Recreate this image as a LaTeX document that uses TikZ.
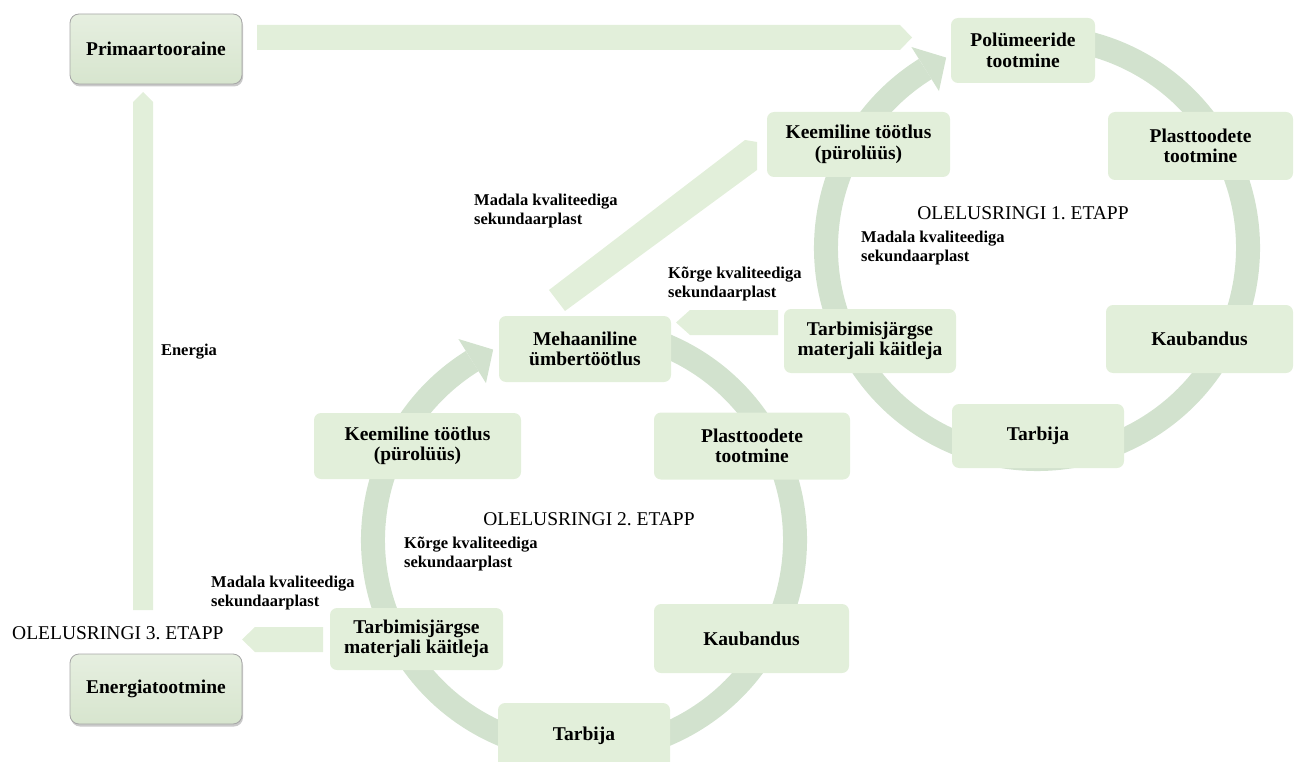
\documentclass[tikz,border=0pt]{standalone}
\usepackage{fontspec}
\setmainfont{Liberation Serif}
\usetikzlibrary{shadows,calc}
\definecolor{boxg}{HTML}{E2EFDA}
\definecolor{ringg}{HTML}{D2E2CE}
\definecolor{arrg}{HTML}{E2EFDA}
\definecolor{primtop}{HTML}{E6EFE0}
\definecolor{primbot}{HTML}{D7E5CE}
\frenchspacing
\begin{document}
\begin{tikzpicture}[x=1pt,y=-1pt,
  box/.style={fill=boxg, rounded corners=7pt, align=center, inner sep=0pt,
    font=\bfseries\fontsize{19.5}{20.5}\selectfont},
  pbox/.style={draw=black!35, line width=0.8pt, top color=primtop, bottom color=primbot,
    rounded corners=9pt, align=center, inner sep=0pt,
    font=\bfseries\fontsize{19.5}{20.5}\selectfont,
    drop shadow={shadow xshift=1pt, shadow yshift=-2.5pt, opacity=.35, fill=black!60}},
  lbl/.style={font=\bfseries\fontsize{16.5}{19}\selectfont, align=left, anchor=west, inner sep=0pt},
  etapp/.style={font=\fontsize{19.5}{22}\selectfont, inner sep=0pt},
  arr/.style={fill=arrg},
  ring/.style={draw=ringg, line width=24pt},
  head/.style={fill=ringg}]
\useasboundingbox (0,0) rectangle (1295,762);
\clip (0,0) rectangle (1295,762);

% ring centres
\coordinate (c1) at (1037,248);
\coordinate (c2) at (584,540);

% rings with arrow heads
\foreach \C in {c1,c2}{
  \draw[ring] ($(\C)+({211*cos(122)},{-211*sin(122)})$) arc[start angle=-122, end angle=-471, radius=211];
  \fill[head] ($(\C)+({237*cos(122)},{-237*sin(122)})$) -- ($(\C)+({211*cos(115.5)},{-211*sin(115.5)})$)
     -- ($(\C)+({185*cos(122)},{-185*sin(122)})$) -- cycle;
}

% boxes
\node[pbox, minimum width=172pt, minimum height=70pt] (prim) at (156,49) {Primaartooraine};
\node[pbox, minimum width=172pt, minimum height=70pt] (energy) at (156,689) {Energiatootmine};

\node[box, minimum width=144pt, minimum height=65pt] (poly) at (1023,50.5) {Polümeeride\\tootmine};
\node[box, minimum width=185pt, minimum height=68pt] (plast1) at (1200.5,146) {Plasttoodete\\tootmine};
\node[box, minimum width=183pt, minimum height=65pt] (keem1) at (858.5,144.5) {Keemiline töötlus\\(pürolüüs)};
\node[box, minimum width=187pt, minimum height=68pt] (kaub1) at (1199.5,339) {Kaubandus};
\node[box, minimum width=172pt, minimum height=64pt] (tarb1) at (1038,436) {Tarbija};
\node[box, minimum width=172pt, minimum height=64pt] (kait1) at (870,341) {Tarbimisjärgse\\materjali käitleja};

\node[box, minimum width=172pt, minimum height=66pt] (meh) at (585,349) {Mehaaniline\\ümbertöötlus};
\node[box, minimum width=196pt, minimum height=67pt] (plast2) at (752,446) {Plasttoodete\\tootmine};
\node[box, minimum width=207pt, minimum height=66pt] (keem2) at (417.5,446) {Keemiline töötlus\\(pürolüüs)};
\node[box, minimum width=195pt, minimum height=69pt] (kaub2) at (751.5,638.5) {Kaubandus};
\node[box, minimum width=172pt, minimum height=66pt] (tarb2) at (584,736) {\raisebox{4pt}{Tarbija}};
\node[box, minimum width=173pt, minimum height=62pt] (kait2) at (416.5,639) {Tarbimisjärgse\\materjali käitleja};

% block arrows
\fill[arr] (257,25) -- (900,25) -- (912,37.5) -- (900,50) -- (257,50) -- cycle;          % prim -> poly
\fill[arr] (133,610) -- (133,102) -- (143,92) -- (153,102) -- (153,610) -- cycle;        % energy -> prim
\fill[arr] (549,290) -- (745,140) -- (757,142) -- (757,170) -- (565,311) -- cycle;       % meh -> keem1
\fill[arr] (778,310) -- (690,310) -- (676,322.5) -- (690,335) -- (778,335) -- cycle;     % kait1 -> meh
\fill[arr] (323,627) -- (255,627) -- (242,639.5) -- (255,652) -- (323,652) -- cycle;     % kait2 -> etapp3

% labels
\node[lbl] (l1) at (474,211) {Madala kvaliteediga\\sekundaarplast};
\node[lbl] (l2) at (861,248) {Madala kvaliteediga\\sekundaarplast};
\node[lbl] (l3) at (668,284) {Kõrge kvaliteediga\\sekundaarplast};
\node[lbl] (l4) at (404,554) {Kõrge kvaliteediga\\sekundaarplast};
\node[lbl] (l5) at (211,593) {Madala kvaliteediga\\sekundaarplast};
\node[lbl, anchor=center] (len) at (189,352) {Energia};

\node[etapp] (e1) at (1023,213) {OLELUSRINGI 1. ETAPP};
\node[etapp] (e2) at (589,519) {OLELUSRINGI 2. ETAPP};
\node[etapp, anchor=west] (e3) at (12,633) {OLELUSRINGI 3. ETAPP};
\end{tikzpicture}
\end{document}
